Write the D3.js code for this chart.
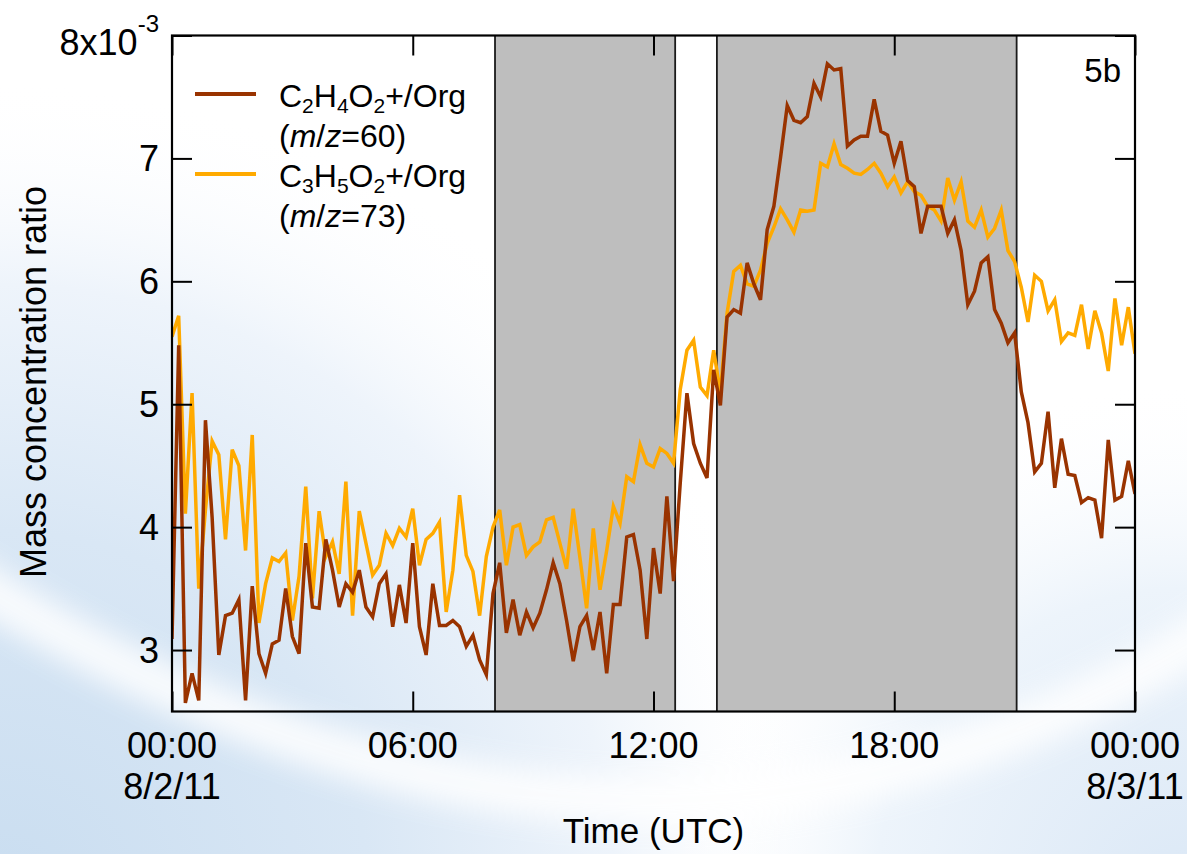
<!DOCTYPE html>
<html>
<head>
<meta charset="utf-8">
<script src="https://cdn.jsdelivr.net/npm/d3@7"></script>
<style>
  html, body { margin: 0; padding: 0; background: #fff; }
  svg { display: block; font-family: "Liberation Sans", Arial, sans-serif; }
</style>
</head>
<body>
<svg id="chart" width="1187" height="854"></svg>
<script>
// ---------------- DATA ----------------
// 10-minute samples, 8/2/11 00:00 → 8/3/11 00:00 (UTC), hours since start
const sampleHours = d3.range(145).map(i => i / 6);

// C2H4O2+/Org (m/z=60), units of 1e-3
const mz60 = [
  3.09, 5.48, 2.57, 2.81, 2.59, 4.87, 4.08, 2.96, 3.28, 3.30,
  3.41, 2.59, 3.52, 2.97, 2.81, 3.05, 3.08, 3.50, 3.11, 2.97,
  3.87, 3.35, 3.34, 3.90, 3.65, 3.35, 3.54, 3.47, 3.65, 3.35,
  3.27, 3.54, 3.62, 3.19, 3.53, 3.22, 3.87, 3.19, 2.96, 3.54,
  3.20, 3.20, 3.24, 3.19, 3.03, 3.12, 2.92, 2.80, 3.46, 3.71,
  3.14, 3.41, 3.12, 3.31, 3.18, 3.30, 3.49, 3.71, 3.54, 3.24,
  2.91, 3.19, 3.28, 3.00, 3.31, 2.81, 3.37, 3.37, 3.92, 3.94,
  3.65, 3.09, 3.83, 3.46, 4.25, 3.56, 4.36, 5.09, 4.68, 4.52,
  4.40, 5.28, 4.99, 5.71, 5.77, 5.74, 6.15, 5.98, 5.85, 6.42,
  6.61, 7.01, 7.43, 7.31, 7.29, 7.34, 7.61, 7.50, 7.77, 7.72,
  7.73, 7.10, 7.15, 7.18, 7.18, 7.48, 7.22, 7.19, 6.96, 7.14,
  6.82, 6.77, 6.39, 6.61, 6.61, 6.61, 6.39, 6.50, 6.25, 5.81,
  5.92, 6.15, 6.20, 5.77, 5.66, 5.50, 5.58, 5.10, 4.85, 4.45,
  4.52, 4.94, 4.32, 4.72, 4.43, 4.42, 4.20, 4.24, 4.22, 3.91,
  4.71, 4.22, 4.25, 4.54, 4.27
];

// C3H5O2+/Org (m/z=73), units of 1e-3
const mz73 = [
  5.55, 5.72, 4.11, 5.09, 3.50, 4.14, 4.70, 4.59, 3.90, 4.63,
  4.50, 3.81, 4.75, 3.22, 3.54, 3.75, 3.72, 3.79, 3.24, 3.60,
  4.33, 3.42, 4.13, 3.76, 3.88, 3.62, 4.37, 3.28, 4.13, 3.87,
  3.61, 3.69, 3.95, 3.85, 3.99, 3.92, 4.15, 3.69, 3.90, 3.95,
  4.04, 3.31, 3.65, 4.26, 3.77, 3.64, 3.28, 3.76, 4.00, 4.14,
  3.69, 4.00, 4.02, 3.77, 3.84, 3.88, 4.06, 4.08, 3.87, 3.66,
  4.15, 3.75, 3.34, 3.99, 3.49, 3.81, 4.17, 4.03, 4.41, 4.37,
  4.67, 4.52, 4.49, 4.64, 4.60, 4.52, 5.12, 5.44, 5.52, 5.14,
  5.07, 5.44, 5.09, 5.74, 6.08, 6.13, 5.98, 5.96, 6.09, 6.31,
  6.44, 6.59, 6.50, 6.40, 6.58, 6.57, 6.58, 6.96, 6.93, 7.12,
  6.95, 6.92, 6.88, 6.87, 6.91, 6.96, 6.88, 6.77, 6.85, 6.72,
  6.81, 6.73, 6.70, 6.61, 6.58, 6.49, 6.84, 6.66, 6.81, 6.49,
  6.44, 6.58, 6.36, 6.43, 6.58, 6.25, 6.16, 5.95, 5.67, 6.05,
  6.00, 5.76, 5.85, 5.51, 5.58, 5.56, 5.81, 5.45, 5.76, 5.58,
  5.27, 5.86, 5.48, 5.79, 5.41
];

// shaded periods (hours since start)
const shadeStart = [8.05, 13.58];
const shadeEnd   = [12.54, 21.05];

const xTickHours  = [0, 6, 12, 18, 24];
const xTickTimes  = ["00:00", "06:00", "12:00", "18:00", "00:00"];
const xTickDates  = ["8/2/11", "", "", "", "8/3/11"];
const yTickValues = [3, 4, 5, 6, 7, 8];

const seriesNames = ["C2H4O2+/Org", "C3H5O2+/Org"];
const seriesColors = ["#993300", "#ffaa00"];

// ---------------- DRAW ----------------
const svg = d3.select("#chart");
const W = 1187, H = 854;
const L = 172, R = 1135, T = 35.5, B = 711.5;

// background decoration
const defs = svg.append("defs");
const gL = defs.append("radialGradient").attr("id", "bgL")
  .attr("gradientUnits", "userSpaceOnUse").attr("cx", 0).attr("cy", 900).attr("r", 820);
gL.append("stop").attr("offset", 0).attr("stop-color", "#c9ddf0");
gL.append("stop").attr("offset", 0.45).attr("stop-color", "#d9e7f5");
gL.append("stop").attr("offset", 0.75).attr("stop-color", "#eef4fb");
gL.append("stop").attr("offset", 1).attr("stop-color", "#ffffff").attr("stop-opacity", 0);
const gR = defs.append("radialGradient").attr("id", "bgR")
  .attr("gradientUnits", "userSpaceOnUse").attr("cx", 1187).attr("cy", 900).attr("r", 520);
gR.append("stop").attr("offset", 0).attr("stop-color", "#dbe8f6");
gR.append("stop").attr("offset", 0.6).attr("stop-color", "#edf4fb");
gR.append("stop").attr("offset", 1).attr("stop-color", "#ffffff").attr("stop-opacity", 0);
const blur = defs.append("filter").attr("id", "blur").attr("x", "-20%").attr("y", "-50%")
  .attr("width", "140%").attr("height", "200%");
blur.append("feGaussianBlur").attr("stdDeviation", 14);

svg.append("rect").attr("width", W).attr("height", H).attr("fill", "#fff");
svg.append("rect").attr("width", W).attr("height", H).attr("fill", "url(#bgL)");
svg.append("rect").attr("width", W).attr("height", H).attr("fill", "url(#bgR)");
svg.append("path")
  .attr("d", "M -60 560 Q 640 1020 1260 600")
  .attr("fill", "none").attr("stroke", "#ffffff").attr("stroke-width", 46)
  .attr("opacity", 0.85).attr("filter", "url(#blur)");

const x = d3.scaleLinear().domain([0, 24]).range([L, R]);
const y = d3.scaleLinear().domain([2.5, 8]).range([B, T]);

svg.append("clipPath").attr("id", "plotClip")
  .append("rect").attr("x", L).attr("y", T).attr("width", R - L).attr("height", B - T);

// shaded periods
const shades = shadeStart.map((s, i) => ({ s, e: shadeEnd[i] }));
const gShade = svg.append("g").attr("clip-path", "url(#plotClip)");
gShade.selectAll("rect").data(shades).join("rect")
  .attr("x", d => x(d.s)).attr("y", T)
  .attr("width", d => x(d.e) - x(d.s)).attr("height", B - T)
  .attr("fill", "#bebebe");
const edges = shades.flatMap(d => [d.s, d.e]);
gShade.selectAll("line").data(edges).join("line")
  .attr("x1", d => x(d)).attr("x2", d => x(d))
  .attr("y1", T).attr("y2", B)
  .attr("stroke", "#1a1a1a").attr("stroke-width", 1.8);

// series lines
const line = d3.line().x((d, i) => x(sampleHours[i])).y(d => y(d));
const gLines = svg.append("g").attr("clip-path", "url(#plotClip)");
gLines.append("path").datum(mz73).attr("d", line)
  .attr("fill", "none").attr("stroke", seriesColors[1]).attr("stroke-width", 3.5);
gLines.append("path").datum(mz60).attr("d", line)
  .attr("fill", "none").attr("stroke", seriesColors[0]).attr("stroke-width", 3.5);

// axes (inward ticks, mirrored)
function styleAxis(g) {
  g.select(".domain").remove();
  g.selectAll(".tick line").attr("stroke", "#000").attr("stroke-width", 2);
}
const gxB = svg.append("g").attr("transform", `translate(0,${B})`)
  .call(d3.axisBottom(x).tickValues(xTickHours).tickSize(-20).tickFormat(""));
styleAxis(gxB);
const gxT = svg.append("g").attr("transform", `translate(0,${T})`)
  .call(d3.axisTop(x).tickValues(xTickHours).tickSize(-20).tickFormat(""));
styleAxis(gxT);
const gyL = svg.append("g").attr("transform", `translate(${L},0)`)
  .call(d3.axisLeft(y).tickValues(yTickValues).tickSize(-20).tickFormat(""));
styleAxis(gyL);
const gyR = svg.append("g").attr("transform", `translate(${R},0)`)
  .call(d3.axisRight(y).tickValues(yTickValues).tickSize(-20).tickFormat(""));
styleAxis(gyR);

// frame
svg.append("rect").attr("x", L).attr("y", T).attr("width", R - L).attr("height", B - T)
  .attr("fill", "none").attr("stroke", "#000").attr("stroke-width", 2.2);

// y tick labels
const yLab = svg.append("g").attr("font-size", 36).attr("fill", "#000").attr("text-anchor", "end");
yTickValues.filter(v => v !== 8).forEach(v => {
  yLab.append("text").attr("x", 159).attr("y", y(v)).attr("dy", "0.36em").text(v);
});
const top8 = yLab.append("text").attr("x", 159).attr("y", 55);
top8.append("tspan").text("8x10");
top8.append("tspan").attr("font-size", 24).attr("dy", -23).text("-3");

// x tick labels
const xLab = svg.append("g").attr("font-size", 36).attr("fill", "#000").attr("text-anchor", "middle");
xTickHours.forEach((h, i) => {
  xLab.append("text").attr("x", x(h)).attr("y", 758).text(xTickTimes[i]);
  if (xTickDates[i]) xLab.append("text").attr("x", x(h)).attr("y", 799).text(xTickDates[i]);
});

// axis titles
svg.append("text").attr("x", (L + R) / 2).attr("y", 843).attr("text-anchor", "middle")
  .attr("font-size", 35).text("Time (UTC)");
svg.append("text").attr("transform", "translate(46,382) rotate(-90)").attr("text-anchor", "middle")
  .attr("font-size", 36).text("Mass concentration ratio");

// panel label
svg.append("text").attr("x", 1121).attr("y", 82).attr("text-anchor", "end")
  .attr("font-size", 33).text("5b");

// legend
const legend = [
  { color: seriesColors[0], parts: [["C",0],["2",1],["H",0],["4",1],["O",0],["2",1],["+/Org",0]], mz: "60", y: 94 },
  { color: seriesColors[1], parts: [["C",0],["3",1],["H",0],["5",1],["O",0],["2",1],["+/Org",0]], mz: "73", y: 174 }
];
const gLeg = svg.append("g").attr("font-size", 32);
legend.forEach(d => {
  gLeg.append("line").attr("x1", 195).attr("x2", 256).attr("y1", d.y).attr("y2", d.y)
    .attr("stroke", d.color).attr("stroke-width", 4);
  const t = gLeg.append("text").attr("x", 279).attr("y", d.y + 12.5);
  let shifted = false;
  d.parts.forEach(([s, sub]) => {
    const ts = t.append("tspan").text(s);
    if (sub && !shifted) { ts.attr("font-size", 21).attr("dy", 6); shifted = true; }
    else if (sub && shifted) { ts.attr("font-size", 21); }
    else if (!sub && shifted) { ts.attr("dy", -6); shifted = false; }
  });
  const t2 = gLeg.append("text").attr("x", 279).attr("y", d.y + 53);
  t2.append("tspan").text("(");
  t2.append("tspan").attr("font-style", "italic").text("m");
  t2.append("tspan").text("/");
  t2.append("tspan").attr("font-style", "italic").text("z");
  t2.append("tspan").text("=" + d.mz + ")");
});
</script>
</body>
</html>
